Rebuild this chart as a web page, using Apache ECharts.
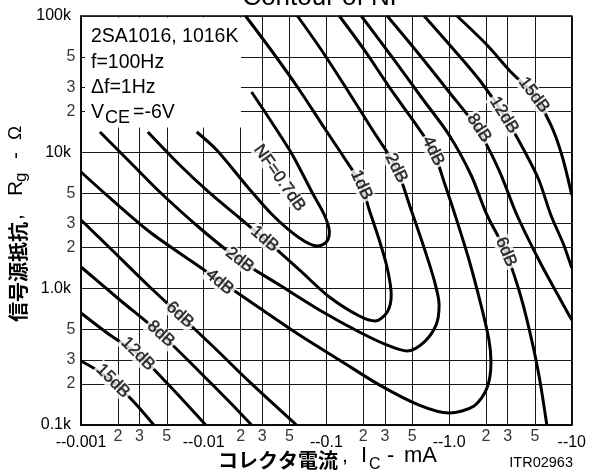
<!DOCTYPE html>
<html><head><meta charset="utf-8">
<script src="https://cdn.jsdelivr.net/npm/echarts@6/dist/echarts.min.js"></script>
<style>html,body{margin:0;padding:0;background:#fff}#c{width:589px;height:474px}</style>
</head><body><div id="c"></div>
<script>
// ---- axes ----
const xDecades = [0.001, 0.01, 0.1, 1, 10];
const xDecadeLabels = ['--0.001', '--0.01', '--0.1', '--1.0', '--10'];
const xMinor = [0.002, 0.003, 0.005, 0.02, 0.03, 0.05, 0.2, 0.3, 0.5, 2, 3, 5];
const xMinorLabels = ['2', '3', '5', '2', '3', '5', '2', '3', '5', '2', '3', '5'];
const yDecades = [100, 1000, 10000, 100000];
const yDecadeLabels = ['0.1k', '1.0k', '10k', '100k'];
const yMinor = [200, 300, 500, 2000, 3000, 5000, 20000, 30000, 50000];
const yMinorLabels = ['2', '3', '5', '2', '3', '5', '2', '3', '5'];

// ---- contours: [Ic (mA, magnitude), Rg (ohm)] ----
const nf07 = [[0.02456,27710],[0.03572,16700],[0.05292,9561],[0.07695,5032],[0.09632,3471],[0.1058,2604],[0.1,2199],[0.08451,2056],[0.06034,2353],[0.03639,3471],[0.02279,5569],[0.01276,10400],[0.008773,14100]];
const nf1 = [[0.02195,100000],[0.03639,54450],[0.06034,28670],[0.09632,15080],[0.1401,9089],[0.1926,5759],[0.2236,3776],[0.2697,2275],[0.3133,1418],[0.3377,898],[0.3133,675],[0.2503,579],[0.1855,630],[0.1058,868],[0.06034,1371],[0.03133,2314],[0.01962,3299],[0.01119,5032],[0.006382,8073],[0.003505,14100]];
const nf2 = [[0.05812,100000],[0.09108,56330],[0.1482,28670],[0.2322,15080],[0.3708,7675],[0.4911,3776],[0.6263,1988],[0.7551,1158],[0.8293,759],[0.7841,542],[0.6263,406],[0.4555,349],[0.3252,380],[0.1855,481],[0.08773,698],[0.04148,1064],[0.01962,1623],[0.00928,2786],[0.004389,5118],[0.002503,8494],[0.001427,14100]];
const nf4 = [[0.1276,100000],[0.2037,56330],[0.3377,28670],[0.5193,16700],[0.7413,10230],[0.928,5759],[1.119,3471],[1.454,1623],[1.82,759],[2.114,420],[2.195,290],[2.037,187],[1.597,138],[1.0,122.5],[0.5703,140],[0.2697,197],[0.1276,300],[0.06034,457],[0.02853,722],[0.01401,1119],[0.007695,1623],[0.003639,2604],[0.001721,4626],[0.001,7173]];
const nf6Upper = [[0.1926,100000],[0.3377,50900],[0.5921,25460],[1.0,13410],[1.51,6821],[2.037,3471],[2.853,1922],[3.708,978],[4.472,515],[5.393,233],[6.263,100]];
const nf6Lower = [[0.001,3190],[0.001721,1988],[0.003639,1028],[0.006382,641],[0.01229,367],[0.02366,207],[0.05704,100]];
const nf8Upper = [[0.3133,100000],[0.5494,54450],[1.0,27710],[1.689,15080],[2.55,7420],[3.572,3471],[5.393,1623],[7.551,929],[10,589]];
const nf8Lower = [[0.001,1442],[0.002075,826],[0.004472,465],[0.00928,245],[0.01627,147.5],[0.02456,100]];
const nf12Upper = [[0.6263,100000],[1.098,56330],[1.82,32810],[2.8,18790],[4.071,10400],[5.393,6268],[6.75,3471],[8.61,2091],[10,1418]];
const nf12Lower = [[0.001,663],[0.001721,457],[0.002907,332],[0.005292,193],[0.01038,100]];
const nf15Upper = [[1.161,100000],[2.037,61300],[3.192,38850],[4.911,26340],[6.75,15870],[8.293,9561],[10,4865]];
const nf15Lower = [[0.001,295],[0.001427,245],[0.002,193],[0.002748,145],[0.003922,100]];

// ---- curve labels ----
const labelText = ['NF=0.7dB','1dB','2dB','4dB','8dB','12dB','15dB','6dB','1dB','2dB','4dB','6dB','8dB','12dB','15dB'];
const labelAt = [[0.04148,6484],[0.1926,5759],[0.3708,7675],[0.7413,10230],[1.754,15080],[2.8,18790],[4.911,26340],[2.906,1858],[0.03133,2314],[0.01962,1623],[0.01349,1119],[0.006382,641],[0.004472,465],[0.002907,332],[0.00182,210]];
const labelAngle = [-55,-65,-64,-64,-57,-58,-53,-67,-40,-38,-40,-42,-42,-45,-45];

const FONT = '"Liberation Sans", Arial, Helvetica, sans-serif';
const CJK = '"Noto Sans CJK JP", "Noto Sans CJK SC", sans-serif';

function lookup(v, vals, labels) {
  for (let i = 0; i < vals.length; i++) {
    if (Math.abs(Math.log10(v) - Math.log10(vals[i])) < 0.01) return labels[i];
  }
  return '';
}

const chart = echarts.init(document.getElementById('c'), null, {renderer: 'canvas'});

const curveStyle = {color: '#000', width: 3};
function curve(name, data) {
  return {name, type: 'line', data, showSymbol: false, smooth: 0.3, lineStyle: curveStyle,
          silent: true, animation: false, z: 2, clip: true};
}
const gridColor = '#1a1a1a';
const gridLines = xMinor.map(v => ({coords: [[v, 100], [v, 100000]]}))
  .concat(yMinor.map(v => ({coords: [[0.001, v], [10, v]]})));

const tickLabelStyle = {show: true, color: '#000', fontSize: 16, fontFamily: FONT};

const series = [
  {name: 'minorGrid', type: 'lines', coordinateSystem: 'cartesian2d', polyline: false, silent: true, animation: false, z: 1,
   effect: {show: false}, lineStyle: {color: gridColor, width: 1, opacity: 1, curveness: 0}, data: gridLines},
  {name: 'xMinorLabels', type: 'scatter', symbolSize: 1, itemStyle: {color: 'rgba(0,0,0,0)'}, clip: false, silent: true, animation: false,
   data: xMinor.map((v, i) => ({value: [v, 100], label: {formatter: xMinorLabels[i]}})),
   label: Object.assign({position: 'bottom', distance: 3}, tickLabelStyle)},
  {name: 'yMinorLabels', type: 'scatter', symbolSize: 1, itemStyle: {color: 'rgba(0,0,0,0)'}, clip: false, silent: true, animation: false,
   data: yMinor.map((v, i) => ({value: [0.001, v], label: {formatter: yMinorLabels[i]}})),
   label: Object.assign({position: 'left', distance: 5}, tickLabelStyle)},
  curve('0.7dB', nf07), curve('1dB', nf1), curve('2dB', nf2), curve('4dB', nf4),
  curve('6dB-u', nf6Upper), curve('6dB-l', nf6Lower),
  curve('8dB-u', nf8Upper), curve('8dB-l', nf8Lower),
  curve('12dB-u', nf12Upper), curve('12dB-l', nf12Lower),
  curve('15dB-u', nf15Upper), curve('15dB-l', nf15Lower),
  {name: 'labels', type: 'scatter', symbolSize: 1, itemStyle: {color: 'rgba(0,0,0,0)'}, z: 4, silent: true, animation: false,
   data: labelAt.map((p, i) => ({value: p, label: {formatter: labelText[i], rotate: labelAngle[i]}})),
   label: {show: true, position: 'inside', color: '#000', fontSize: 17, fontFamily: FONT,
           textBorderColor: '#000', textBorderWidth: 0.5,
           backgroundColor: '#fff', padding: [0, 2]}}
];

const option = {
  animation: false,
  backgroundColor: '#fff',
  grid: {left: 81, top: 16, width: 492, height: 409, show: true, borderColor: '#000', borderWidth: 1.5, containLabel: false},
  xAxis: {type: 'log', logBase: 10, min: 0.001, max: 10,
    axisLine: {show: true, lineStyle: {color: '#000', width: 1.5}},
    axisTick: {show: false},
    splitLine: {show: true, lineStyle: {color: gridColor, width: 1}},
    axisLabel: {show: true, interval: 0, showMinLabel: true, showMaxLabel: true, margin: 10, color: '#000', fontSize: 16, fontFamily: FONT,
      formatter: v => lookup(v, xDecades, xDecadeLabels)}},
  yAxis: {type: 'log', logBase: 10, min: 100, max: 100000,
    axisLine: {show: true, lineStyle: {color: '#000', width: 1.5}},
    axisTick: {show: false},
    splitLine: {show: true, lineStyle: {color: gridColor, width: 1}},
    axisLabel: {show: true, interval: 0, showMinLabel: true, showMaxLabel: true, margin: 10, color: '#000', fontSize: 16, fontFamily: FONT,
      formatter: v => lookup(v, yDecades, yDecadeLabels)}},
  series,
  graphic: [
    {type: 'text', z: 20, x: 324, y: -2, style: {text: 'Contour of NF', font: '26px ' + FONT, fill: '#000', align: 'center', verticalAlign: 'middle'}},
    {type: 'rect', z: 10, shape: {x: 85, y: 17.5, width: 156, height: 110}, style: {fill: '#fff'}},
    {type: 'text', z: 11, x: 91, y: 37, style: {text: '2SA1016, 1016K', font: '19.5px ' + FONT, fill: '#000', align: 'left', verticalAlign: 'middle'}},
    {type: 'text', z: 11, x: 91, y: 63, style: {text: 'f=100Hz', font: '19.5px ' + FONT, fill: '#000', align: 'left', verticalAlign: 'middle'}},
    {type: 'text', z: 11, x: 91, y: 88, style: {text: '\u0394f=1Hz', font: '19.5px ' + FONT, fill: '#000', align: 'left', verticalAlign: 'middle'}},
    {type: 'text', z: 11, x: 91, y: 113, style: {text: 'V', font: '19.5px ' + FONT, fill: '#000', align: 'left', verticalAlign: 'middle'}},
    {type: 'text', z: 11, x: 105, y: 118, style: {text: 'CE', font: '18px ' + FONT, fill: '#000', align: 'left', verticalAlign: 'middle'}},
    {type: 'text', z: 11, x: 133, y: 113, style: {text: '=-6V', font: '19.5px ' + FONT, fill: '#000', align: 'left', verticalAlign: 'middle'}},
    // x axis name
    {type: 'text', z: 11, x: 218, y: 460, style: {text: 'コレクタ電流', font: 'bold 20px ' + CJK, fill: '#000', align: 'left', verticalAlign: 'middle'}},
    {type: 'text', z: 11, x: 342, y: 456, style: {text: ',', font: '21px ' + FONT, fill: '#000', align: 'left', verticalAlign: 'middle'}},
    {type: 'text', z: 11, x: 361, y: 456, style: {text: 'I', font: '22px ' + FONT, fill: '#000', align: 'left', verticalAlign: 'middle'}},
    {type: 'text', z: 11, x: 369, y: 465, style: {text: 'C', font: '16px ' + FONT, fill: '#000', align: 'left', verticalAlign: 'middle'}},
    {type: 'text', z: 11, x: 387, y: 456, style: {text: '-', font: '22px ' + FONT, fill: '#000', align: 'left', verticalAlign: 'middle'}},
    {type: 'text', z: 11, x: 404, y: 456, style: {text: 'mA', font: '22px ' + FONT, fill: '#000', align: 'left', verticalAlign: 'middle'}},
    {type: 'text', z: 11, x: 573, y: 463, style: {text: 'ITR02963', font: '14.5px ' + FONT, fill: '#000', align: 'right', verticalAlign: 'middle'}},
    // y axis name (rotated)
    {type: 'group', x: 18, y: 322, rotation: Math.PI / 2, z: 11, children: [
      {type: 'text', x: 0, y: 0, style: {text: '信号源抵抗', font: 'bold 20px ' + CJK, fill: '#000', align: 'left', verticalAlign: 'middle'}},
      {type: 'text', x: 102, y: -2, style: {text: ',', font: '21px ' + FONT, fill: '#000', align: 'left', verticalAlign: 'middle'}},
      {type: 'text', x: 126, y: -2, style: {text: 'R', font: '21px ' + FONT, fill: '#000', align: 'left', verticalAlign: 'middle'}},
      {type: 'text', x: 140, y: 3, style: {text: 'g', font: '17px ' + FONT, fill: '#000', align: 'left', verticalAlign: 'middle'}},
      {type: 'text', x: 163, y: -2, style: {text: '-', font: '21px ' + FONT, fill: '#000', align: 'left', verticalAlign: 'middle'}},
      {type: 'text', x: 182, y: -2, style: {text: '\u03A9', font: '19px ' + FONT, fill: '#000', align: 'left', verticalAlign: 'middle'}}
    ]}
  ]
};
chart.setOption(option);
</script></body></html>
